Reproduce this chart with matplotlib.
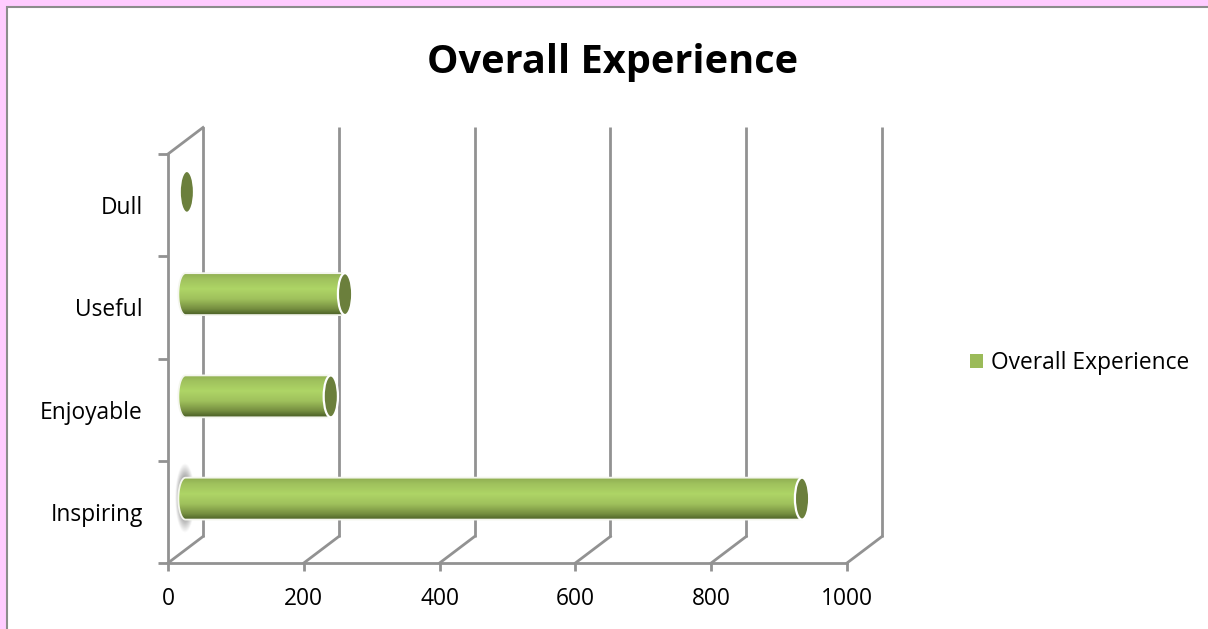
import numpy as np
import matplotlib
matplotlib.use("Agg")
import matplotlib.pyplot as plt
from matplotlib.colors import LinearSegmentedColormap
from matplotlib.patches import Ellipse, Polygon, Rectangle

categories = ["Inspiring", "Enjoyable", "Useful", "Dull"]
values = [908, 214, 235, 2]
series_name = "Overall Experience"
x_ticks = [0, 200, 400, 600, 800, 1000]

W, H = 1208, 629
GRID = "#929292"
LW = 2.0
plt.rcParams["font.family"] = ["Open Sans", "DejaVu Sans"]

fig = plt.figure(figsize=(W / 100, H / 100), dpi=100, facecolor="#ffccff")
fig.add_artist(Rectangle((6.5 / W, -0.1), 1.1, (H - 7.5) / H + 0.1, transform=fig.transFigure,
                         facecolor="white", edgecolor="#8c8c8c", lw=1.5, zorder=-5))

ax = fig.add_axes([168 / W, 1 - 563 / H, (847 - 168) / W, (563 - 154) / H])
ax.patch.set_alpha(0)
ax.set_xlim(0, 1000)
ax.set_ylim(0, 4)
ax.set_autoscale_on(False)

# depth of the pseudo-3D box, expressed in data units
dx = 35 / 0.679
dy = 26.5 / 102.25

for s in ("top", "right"):
    ax.spines[s].set_visible(False)
for s in ("left", "bottom"):
    ax.spines[s].set_color(GRID)
    ax.spines[s].set_linewidth(LW)

ax.set_xticks(x_ticks)
ax.set_yticks(range(5))
ax.set_yticklabels([])
ax.set_yticks(np.arange(4) + 0.5, categories, minor=True)
ax.tick_params(axis="x", length=6, width=LW, color=GRID, labelsize=16.4, pad=11, labelcolor="black")
ax.tick_params(axis="y", which="major", length=7, width=LW, color=GRID)
ax.tick_params(axis="y", which="minor", length=0, labelsize=16.4, pad=18, labelcolor="black")

# back wall, floor and side wall
ax.vlines(np.array(x_ticks) + dx, dy, 4 + dy, color=GRID, lw=LW, clip_on=False, zorder=1)
for x in x_ticks:
    ax.plot([x, x + dx], [0, dy], color=GRID, lw=LW, clip_on=False, zorder=1)
ax.plot([0, dx], [4, 4 + dy], color=GRID, lw=LW, clip_on=False, zorder=1)

# soft shadow behind the longest bar's base
sx = np.linspace(-1, 1, 60)
sy = np.linspace(-1, 1, 120)
xx, yy = np.meshgrid(sx, sy)
shadow = np.zeros((120, 60, 4))
shadow[..., :3] = 0.42
shadow[..., 3] = np.clip(1.7 * (1 - np.sqrt(xx**2 + yy**2)), 0, 1) * 0.85
ax.imshow(shadow, extent=(dx / 2 - 16, dx / 2 + 12, 0.5 + dy / 2 - 0.34, 0.5 + dy / 2 + 0.34),
          aspect="auto", zorder=2, interpolation="bilinear")

# cylinders
cmap = LinearSegmentedColormap.from_list(
    "cyl", [(0, "#8fae52"), (0.14, "#a0c25d"), (0.38, "#aed566"), (0.62, "#9fc05c"),
            (0.85, "#768f40"), (1, "#4a5e26")])
grad = np.linspace(0, 1, 256).reshape(-1, 1)
rx, bar_h = 10.5, 0.41
t = np.linspace(np.pi / 2, 3 * np.pi / 2, 40)
centres = np.arange(len(values)) + 0.5 + dy / 2

bars = ax.barh(centres, values, height=bar_h, left=dx / 2, color="#9bbb59", zorder=3, label=series_name)
for bar, cy, val in zip(bars, centres, values):
    x0, x1 = dx / 2, dx / 2 + val
    lx = x0 + rx * np.cos(t)
    ly = cy + bar_h / 2 * np.sin(t)
    outline = np.vstack([np.c_[lx, ly], [[x1, cy - bar_h / 2], [x1, cy + bar_h / 2]]])
    poly = Polygon(outline, closed=True, transform=ax.transData, facecolor="none",
                   edgecolor="none", zorder=3.1)
    ax.add_patch(poly)
    if val > 20:
        im = ax.imshow(grad, cmap=cmap, extent=(x0 - rx, x1, cy - bar_h / 2, cy + bar_h / 2),
                       aspect="auto", zorder=3.2, origin="upper", interpolation="bilinear")
        im.set_clip_path(poly)
        ax.add_patch(Polygon(outline, closed=True, facecolor="none", edgecolor="#f4f6ee",
                             lw=1.3, zorder=3.3, clip_on=False))
    else:
        bar.set_visible(False)
    ax.add_patch(Ellipse((x1, cy), 2 * rx, bar_h, facecolor="#6b7f3c", edgecolor="white",
                         lw=1.6, zorder=3.4, clip_on=False))

ax.set_xlim(0, 1000)
ax.set_ylim(0, 4)

fig.text(612.5 / W, 1 - 63 / H, series_name, ha="center", va="center",
         fontsize=28.6, fontweight="bold", color="black")

handles, labels = ax.get_legend_handles_labels()
ax.legend(handles, labels, loc="center left", bbox_to_anchor=(970 / W, 1 - 363 / H),
          bbox_transform=fig.transFigure, frameon=False, fontsize=16.4,
          handlelength=0.55, handleheight=0.55, handletextpad=0.35, borderpad=0, borderaxespad=0)

fig.savefig("out.png", dpi=100, facecolor=fig.get_facecolor())
